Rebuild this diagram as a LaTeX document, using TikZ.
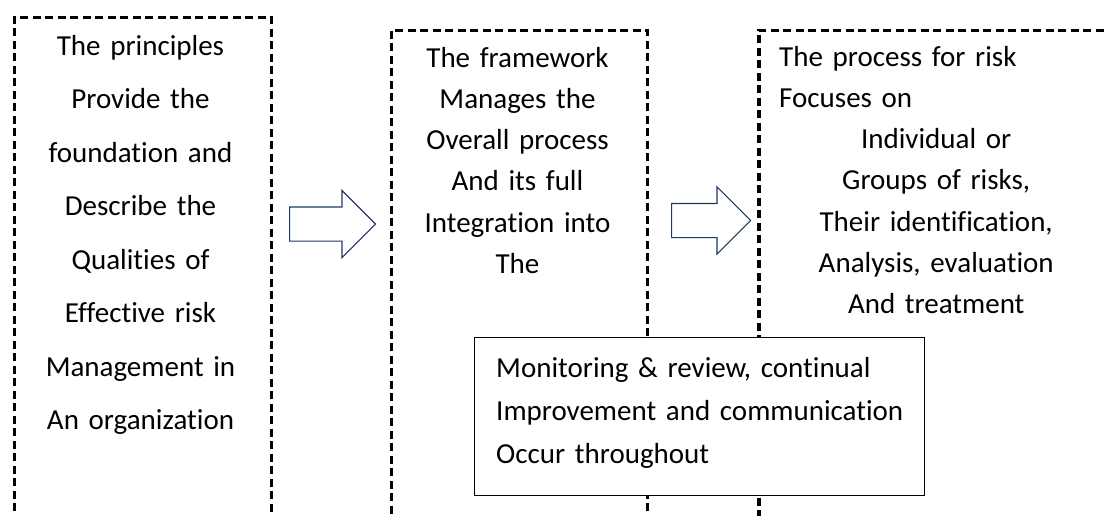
\documentclass[tikz,border=0pt]{standalone}
\usepackage{fontspec}
\setmainfont{Carlito}[Ligatures=NoCommon]
\usetikzlibrary{shapes.arrows}
\definecolor{arrowblue}{HTML}{203864}
\tikzset{
      panel/.style = { draw, line width=3.5pt, dash pattern=on 8pt off 4.5pt, inner sep=0pt, anchor=north west },
   wideline/.style = { font=\fontsize{29}{53.5}\selectfont, align=center, inner sep=0pt },
  tightline/.style = { font=\fontsize{29}{41.3}\selectfont, align=center, inner sep=0pt },
   noteline/.style = { font=\fontsize{29}{43}\selectfont, align=left, inner sep=0pt },
   bigarrow/.style = { single arrow, draw=arrowblue, fill=white, line width=1.2pt, inner xsep=0pt,
                       inner ysep=16.5pt, single arrow head extend=16.5pt, minimum width=66pt, anchor=tail },
       note/.style = { draw, fill=white, line width=1.3pt, inner sep=0pt, anchor=north west },
}

\begin{document}
\begin{tikzpicture}[x=1pt,y=-1pt]
  \useasboundingbox (0,0) rectangle (1105,515);
  \fill[white] (0,0) rectangle (1105,515);
  \clip (0,0) rectangle (1105,515);

  \node[panel, minimum width=257pt, minimum height=600pt] (principles) at (12.5,15.5) {};
  \node[panel, minimum width=256pt, minimum height=600pt] (framework)  at (389.5,28.5) {};
  \node[panel, minimum width=360pt, minimum height=600pt] (process)    at (757,28.5) {};

  \node[bigarrow, minimum height=86pt] (toFramework) at (289,224) {};
  \node[bigarrow, minimum height=79pt] (toProcess)   at (671,220.5) {};

  \node[note, minimum width=450pt, minimum height=158pt] (monitor) at (474,337) {};

  \node[wideline, text width=250pt, anchor=base] (principlesText) at (140.5,55)
    {The principles\\ Provide the\\ foundation and\\ Describe the\\ Qualities of\\
     Effective risk\\ Management in\\ An organization};
  \node[tightline, text width=250pt, anchor=base] (frameworkText) at (517.5,67)
    {The framework\\ Manages the\\ Overall process\\ And its full\\ Integration into\\ The};
  \node[tightline, text width=314pt, anchor=base west] (processText) at (779,66)
    {\makebox[\linewidth][l]{The process for risk}\\
     \makebox[\linewidth][l]{Focuses on}\\
     Individual or\\ Groups of risks,\\ Their identification,\\ Analysis, evaluation\\ And treatment};
  \node[noteline, text width=420pt, anchor=base west] (monitorText) at (496,377)
    {Monitoring \& review, continual\\ Improvement and communication\\ Occur throughout};
\end{tikzpicture}
\end{document}
